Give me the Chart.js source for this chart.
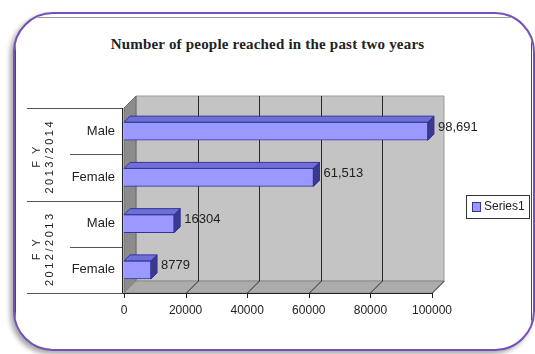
<!DOCTYPE html>
<html>
<head>
<meta charset="utf-8">
<script src="https://cdn.jsdelivr.net/npm/chart.js@4"></script>
<style>
html,body{margin:0;padding:0;background:#fff;}
#wrap{position:relative;width:535px;height:354px;overflow:hidden;}
#frame{position:absolute;left:13px;top:12px;width:522px;height:339px;box-sizing:border-box;border:2px solid #7450b8;border-radius:40px;box-shadow:-3px 3px 5px rgba(0,0,0,.35);overflow:hidden;background:#fff;}
#inner{position:absolute;left:0;top:3px;width:517px;height:333px;box-sizing:border-box;border:1px solid #4a4a4a;border-top-color:#9a9a9a;}
#title{position:absolute;left:0;width:535px;top:36px;text-align:center;font:bold 15px "Liberation Serif",serif;letter-spacing:0.2px;color:#222;}
canvas{position:absolute;left:0;top:0;}
</style>
</head>
<body>
<div id="wrap">
  <div id="frame"><div id="inner"></div></div>
  <div id="title">Number of people reached in the past two years</div>
  <canvas id="chart" width="535" height="354"></canvas>
</div>
<script>
// people reached, top row first
const categories = ["Male", "Female", "Male", "Female"];
const reached = [98691, 61513, 16304, 8779];
const commaLabel = [true, true, false, false];
const groupYears = ["2013/2014", "2012/2013"];
const groupSize = 2;
const xTicks = [0, 20000, 40000, 60000, 80000, 100000];
const seriesName = "Series1";

const WALL_D = 12;   // depth of the walls
const BAR_D = 6;     // depth of each bar

const barFill = "#9999ff";
const barEdge = "#333399";

function poly(ctx, pts, fill, stroke) {
  ctx.beginPath();
  ctx.moveTo(pts[0][0], pts[0][1]);
  for (let i = 1; i < pts.length; i++) ctx.lineTo(pts[i][0], pts[i][1]);
  ctx.closePath();
  if (fill) { ctx.fillStyle = fill; ctx.fill(); }
  if (stroke) { ctx.strokeStyle = stroke; ctx.lineWidth = 1; ctx.stroke(); }
}

const box3d = {
  id: "box3d",
  beforeDatasetsDraw(chart) {
    const { ctx, chartArea: a, scales: { x } } = chart;
    const d = WALL_D;
    ctx.save();
    // back wall
    poly(ctx, [[a.left + d, a.top - d], [a.right + d, a.top - d], [a.right + d, a.bottom - d], [a.left + d, a.bottom - d]], "#c4c4c4", "#9a9a9a");
    // left wall
    poly(ctx, [[a.left, a.top], [a.left + d, a.top - d], [a.left + d, a.bottom - d], [a.left, a.bottom]], "#8c8c8c", "#6a6a6a");
    // floor
    poly(ctx, [[a.left, a.bottom], [a.left + d, a.bottom - d], [a.right + d, a.bottom - d], [a.right, a.bottom]], "#ababab", "#8a8a8a");
    // grid lines on wall and floor
    ctx.strokeStyle = "#2a2a2a";
    ctx.lineWidth = 1;
    xTicks.forEach((t, i) => {
      const px = Math.round(x.getPixelForValue(t)) + 0.5;
      ctx.beginPath();
      if (i > 0 && i < xTicks.length - 1) {
        ctx.moveTo(px + d, a.top - d);
        ctx.lineTo(px + d, a.bottom - d);
      }
      if (i > 0) {
        ctx.moveTo(px, a.bottom);
        ctx.lineTo(px + d, a.bottom - d);
      }
      ctx.stroke();
    });
    ctx.restore();
  },
  afterDatasetsDraw(chart) {
    const { ctx } = chart;
    const meta = chart.getDatasetMeta(0);
    const d = BAR_D;
    ctx.save();
    meta.data.forEach((bar, i) => {
      const p = bar.getProps(["x", "y", "base", "height"], true);
      const x0 = p.base, x1 = p.x;
      const y0 = p.y - p.height / 2, y1 = p.y + p.height / 2;
      // top face
      poly(ctx, [[x0, y0], [x0 + d, y0 - d], [x1 + d, y0 - d], [x1, y0]], "#6f6fd8", barEdge);
      // end face
      poly(ctx, [[x1, y0], [x1 + d, y0 - d], [x1 + d, y1 - d], [x1, y1]], "#3a3a8c", barEdge);
      // value label
      const v = reached[i];
      const txt = commaLabel[i] ? v.toLocaleString("en-US") : String(v);
      ctx.fillStyle = "#222";
      ctx.font = "13px 'Liberation Sans', Arial, sans-serif";
      ctx.textAlign = "left";
      ctx.textBaseline = "middle";
      ctx.fillText(txt, x1 + d + 4, p.y - 4);
    });
    ctx.restore();
  },
  afterDraw(chart) {
    const { ctx, chartArea: a, scales: { x } } = chart;
    ctx.save();
    // axis lines and tick marks
    ctx.strokeStyle = "#222";
    ctx.lineWidth = 1;
    ctx.beginPath();
    ctx.moveTo(a.left - 1.5, a.top);
    ctx.lineTo(a.left - 1.5, a.bottom + 0.5);
    ctx.lineTo(a.right, a.bottom + 0.5);
    xTicks.forEach(t => {
      const px = Math.round(x.getPixelForValue(t)) + 0.5;
      ctx.moveTo(px, a.bottom);
      ctx.lineTo(px, a.bottom + 5);
    });
    ctx.stroke();

    // category separators in the label area
    const step = (a.bottom - a.top) / categories.length;
    ctx.strokeStyle = "#555";
    ctx.beginPath();
    for (let i = 0; i <= categories.length; i++) {
      const py = Math.round(a.top + i * step) + 0.5;
      const start = i % groupSize === 0 ? 27 : 70;
      ctx.moveTo(start, py);
      ctx.lineTo(a.left - 2, py);
    }
    ctx.stroke();

    // rotated group labels
    ctx.fillStyle = "#222";
    ctx.font = "11px 'Liberation Sans', Arial, sans-serif";
    ctx.textAlign = "center";
    ctx.textBaseline = "middle";
    groupYears.forEach((yr, g) => {
      const cy = a.top + (g * groupSize + groupSize / 2) * step + 2;
      ctx.save();
      ctx.translate(37, cy);
      ctx.rotate(-Math.PI / 2);
      ctx.letterSpacing = "2px";
      ctx.fillText("F Y", 0, 0);
      ctx.letterSpacing = "2.5px";
      ctx.fillText(yr, 0, 13);
      ctx.restore();
    });

    // legend
    const lx = 466, ly = 195, lw = 63, lh = 23;
    ctx.strokeStyle = "#333";
    ctx.strokeRect(lx + 0.5, ly + 0.5, lw, lh);
    ctx.fillStyle = barFill;
    ctx.fillRect(lx + 6, ly + 7, 8, 9);
    ctx.strokeStyle = barEdge;
    ctx.strokeRect(lx + 6.5, ly + 7.5, 8, 9);
    ctx.fillStyle = "#222";
    ctx.font = "12px 'Liberation Sans', Arial, sans-serif";
    ctx.textAlign = "left";
    ctx.letterSpacing = "0px";
    ctx.fillText(seriesName, lx + 18, ly + 12);
    ctx.restore();
  }
};

new Chart(document.getElementById("chart"), {
  type: "bar",
  data: {
    labels: categories,
    datasets: [{
      label: seriesName,
      data: reached,
      backgroundColor: barFill,
      borderColor: barEdge,
      borderWidth: 1,
      barThickness: 18
    }]
  },
  options: {
    indexAxis: "y",
    responsive: false,
    animation: false,
    layout: { padding: { left: 20, top: 108, right: 103, bottom: 40 } },
    plugins: {
      legend: { display: false },
      tooltip: { enabled: false }
    },
    scales: {
      x: {
        min: 0,
        max: 100000,
        grid: { display: false, drawTicks: false },
        border: { display: false },
        afterFit: s => { s.height = 21; },
        afterBuildTicks: s => { s.ticks = xTicks.map(v => ({ value: v })); },
        ticks: {
          color: "#222",
          padding: 10,
          maxRotation: 0,
          callback: v => String(v),
          font: { family: "'Liberation Sans', Arial, sans-serif", size: 12 }
        }
      },
      y: {
        grid: { display: false, drawTicks: false },
        border: { display: false },
        afterFit: s => { s.width = 104; },
        ticks: {
          color: "#222",
          padding: 9,
          font: { family: "'Liberation Sans', Arial, sans-serif", size: 13 }
        }
      }
    }
  },
  plugins: [box3d]
});
</script>
</body>
</html>
